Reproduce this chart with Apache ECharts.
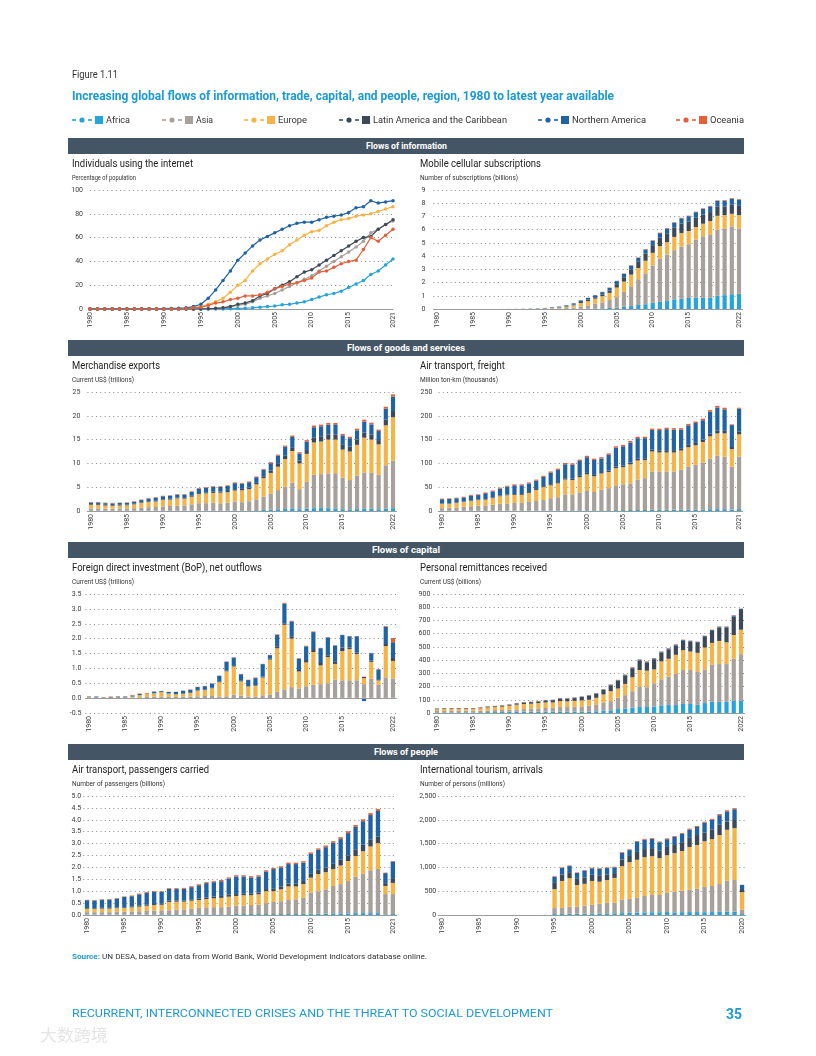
<!DOCTYPE html>
<html><head><meta charset="utf-8">
<script src="https://cdn.jsdelivr.net/npm/echarts@6/dist/echarts.min.js"></script>
<style>
html,body{margin:0;padding:0;background:#fff;}
#page{position:relative;width:816px;height:1056px;overflow:hidden;font-family:Roboto,"Noto Sans",sans-serif;}
#chart{position:absolute;left:0;top:0;width:816px;height:1056px;}
.t{position:absolute;white-space:nowrap;transform-origin:left center;z-index:3;}
.bar{position:absolute;left:68px;width:676px;height:16px;background:#445565;z-index:2;}
.lg{position:absolute;width:32px;height:10px;z-index:3;line-height:0;}
.lg svg{display:block;}
</style></head>
<body><div id="page"><div id="chart"></div></div>
<script>
// ---------- categories ----------
const years80to20 = ['1980','1981','1982','1983','1984','1985','1986','1987','1988','1989','1990','1991','1992','1993','1994','1995','1996','1997','1998','1999','2000','2001','2002','2003','2004','2005','2006','2007','2008','2009','2010','2011','2012','2013','2014','2015','2016','2017','2018','2019','2020'];
const years80to21 = years80to20.concat(['2021']);
const years80to22 = years80to21.concat(['2022']);
const tickYears = ['1980','1985','1990','1995','2000','2005','2010','2015'];
const regionNames = ['Africa','Asia','Europe','Latin America and the Caribbean','Northern America','Oceania'];
const regionColors = ['#25a3db','#a8a09b','#f5b445','#3d4957','#1f63a5','#e4603b'];

// ---------- Individuals using the internet (% of population), 1980-2021 ----------
const internetAfrica = [0,0,0,0,0,0,0,0,0,0, 0,0,0,0,0,0,0,0.05,0.1,0.3, 0.5,0.7,1,1.5,2,2.5,3.5,4,5,6, 8,10,12,13,15,18,21,24,29,32, 37,42];
const internetAsia = [0,0,0,0,0,0,0,0,0,0, 0,0,0,0,0,0,0.3,0.5,1,2, 3,4,6,9,11,13,16,19,22,25, 28,32,36,40,44,48,52,57,64,67, 71,74];
const internetEurope = [0,0,0,0,0,0,0,0,0,0, 0,0.1,0.2,0.5,1,2,4,6,9,14, 20,24,32,38,42,46,49,54,58,62, 65,66,70,73,75,76,78,79,80,82, 84,86];
const internetLatAm = [0,0,0,0,0,0,0,0,0,0, 0,0,0,0,0,0.1,0.3,0.6,1,2, 4,5,7,11,13,17,20,23,27,31, 33,37,41,45,49,53,57,60,61,67, 71,75];
const internetNAm = [0,0,0,0,0,0,0,0,0,0, 0.3,0.5,0.7,1,2,4,9,16,24,32, 41,47,53,58,61,64,67,70,72,73, 73,75,77,78,79,81,85,86,91,89, 90,91];
const internetOceania = [0,0,0,0,0,0,0,0,0,0, 0,0,0.1,0.5,1,1.5,3,5,6,8, 9,11,11,12,14,17,19,21,22,24, 26,31,32,35,38,40,41,50,60,57, 62,67];

// ---------- Mobile cellular subscriptions (billions), 1980-2022 ----------
const mobileAfrica = [0,0,0,0,0,0,0,0,0,0, 0,0,0,0,0.001,0.001,0.002,0.003,0.004,0.008, 0.015,0.025,0.035,0.05,0.08,0.11,0.17,0.22,0.3,0.36, 0.47,0.54,0.6,0.73,0.77,0.83,0.85,0.85,0.87,1.0, 1.05,1.12,1.15];
const mobileAsia = [0,0,0,0,0,0,0,0,0,0, 0.001,0.002,0.003,0.005,0.008,0.015,0.025,0.045,0.07,0.11, 0.185,0.245,0.365,0.45,0.6,0.79,1.13,1.5,1.95,2.34, 2.83,3.28,3.52,3.72,3.95,4.07,4.4,4.65,4.78,5.0, 5.05,5.13,4.95];
const mobileEurope = [0,0,0,0,0,0,0,0,0,0, 0.002,0.003,0.005,0.008,0.012,0.02,0.035,0.055,0.09,0.16, 0.25,0.33,0.38,0.47,0.54,0.72,0.77,0.88,0.85,0.95, 0.95,0.93,0.93,1.0,1.03,1.0,0.95,0.95,1.0,1.05, 1.0,0.95,1.0];
const mobileLatAm = [0,0,0,0,0,0,0,0,0,0, 0,0.001,0.002,0.003,0.005,0.008,0.014,0.025,0.04,0.06, 0.08,0.1,0.11,0.14,0.18,0.26,0.33,0.4,0.47,0.53, 0.58,0.64,0.68,0.7,0.72,0.72,0.7,0.7,0.68,0.68, 0.65,0.68,0.7];
const mobileNAm = [0,0,0,0,0,0.0004,0.0007,0.001,0.002,0.004, 0.006,0.008,0.012,0.017,0.026,0.035,0.045,0.055,0.07,0.09, 0.12,0.14,0.15,0.17,0.2,0.23,0.26,0.28,0.3,0.32, 0.34,0.35,0.36,0.38,0.39,0.4,0.42,0.43,0.43,0.45, 0.45,0.47,0.47];
const mobileOceania = [0,0,0,0,0,0,0,0,0.0002,0.0005, 0.001,0.0015,0.002,0.0025,0.003,0.004,0.005,0.006,0.008,0.01, 0.012,0.014,0.017,0.02,0.022,0.025,0.027,0.028,0.03,0.032, 0.034,0.035,0.036,0.037,0.038,0.04,0.04,0.04,0.041,0.042, 0.042,0.043,0.044];

// ---------- Merchandise exports (US$ trillions), 1980-2022 ----------
const merchAfrica = [0.1,0.09,0.08,0.07,0.07,0.07,0.06,0.07,0.07,0.08, 0.1,0.09,0.09,0.08,0.09,0.1,0.11,0.11,0.1,0.11, 0.14,0.13,0.14,0.17,0.22,0.3,0.36,0.43,0.55,0.38, 0.5,0.6,0.62,0.6,0.55,0.38,0.34,0.4,0.47,0.45, 0.36,0.5,0.6];
const merchAsia = [0.45,0.46,0.42,0.43,0.48,0.48,0.54,0.63,0.73,0.77, 0.85,0.96,1.06,1.12,1.31,1.55,1.54,1.64,1.5,1.64, 1.86,1.72,1.91,2.28,2.83,3.3,4.04,4.67,5.45,4.22, 5.6,7.0,7.13,7.3,7.4,6.62,6.16,7.0,7.63,7.55, 7.24,9.1,10.0];
const merchEurope = [0.75,0.7,0.65,0.6,0.6,0.65,0.8,1.0,1.1,1.15, 1.4,1.35,1.5,1.4,1.6,1.9,2.05,2.05,2.25,2.2, 2.3,2.5,2.55,3.15,3.85,4.4,4.9,5.8,6.6,5.4, 5.9,6.8,6.85,7.1,7.05,5.9,6.0,6.5,7.3,7.0, 6.4,8.4,9.1];
const merchLatAm = [0.15,0.17,0.15,0.15,0.15,0.15,0.12,0.12,0.15,0.15, 0.15,0.15,0.15,0.15,0.2,0.2,0.22,0.25,0.25,0.25, 0.3,0.3,0.3,0.3,0.4,0.5,0.6,0.7,0.8,0.6, 0.8,1.0,1.1,1.1,1.1,1.0,1.0,1.1,1.1,1.1, 0.9,1.2,1.3];
const merchNAm = [0.35,0.38,0.35,0.35,0.4,0.37,0.43,0.48,0.55,0.63, 0.6,0.65,0.65,0.7,0.8,0.95,0.93,1.0,0.95,1.05, 1.25,1.1,1.15,1.2,1.4,1.55,1.75,1.9,2.15,1.5, 1.8,2.2,2.1,2.05,2.1,2.0,1.8,1.95,2.3,2.1, 1.9,2.3,3.0];
const merchOceania = [0.1,0.1,0.1,0.1,0.08,0.08,0.1,0.1,0.1,0.12, 0.1,0.1,0.1,0.1,0.12,0.15,0.15,0.15,0.15,0.15, 0.15,0.15,0.15,0.15,0.15,0.2,0.2,0.25,0.3,0.25, 0.3,0.35,0.35,0.35,0.3,0.3,0.3,0.35,0.4,0.35, 0.3,0.4,0.5];

// ---------- Air transport, freight (million ton-km, thousands), 1980-2021 ----------
const freightAfrica = [0.5,0.5,0.5,0.6,0.6,0.6,0.7,0.7,0.8,0.8, 0.9,0.9,1,1,1.1,1.2,1.2,1.3,1.3,1.4, 1.5,1.4,1.5,1.6,1.8,1.9,2,2.1,2.2,2.4, 2.6,2.7,2.8,2.9,3,3,3.1,3.8,4,3.9, 3.2,4];
const freightAsia = [5.5,6.5,6.5,8.4,9.4,10.4,11.3,12.3,14.2,14.2, 16.1,16.1,18,20,21.9,25.8,27.8,33.7,33.7,37.6, 40.5,38.6,43.5,46.4,52.2,54.1,56,63.9,66.8,80.6, 80.4,80.3,80.2,84.1,90,94,98.9,106.2,112,110.1, 89.8,110];
const freightEurope = [9,8,10,10,11,12,12,14,16,18, 17,17,19,23,27,27,29,31,30,32, 35,33,34,34,36,36,40,40,38,42, 40,40,40,40,41,41,43,47,47,49, 37,47];
const freightLatAm = [1,1,1,1,1.2,1.2,1.3,1.4,1.5,1.6, 1.7,1.7,1.8,2,2.2,2.4,2.6,2.8,2.8,2.8, 3,2.8,2.8,2.9,3.2,3.4,3.6,3.8,3.9,4, 4.5,4.7,4.8,4.8,5,5,5,5.3,5.5,5.3, 4.5,5.5];
const freightNAm = [8.8,9.3,8.7,8.7,10.4,9.3,12.1,12.9,14.7,16.5, 18.3,18.3,18.1,17.8,19.4,24,25.7,29.4,29.4,31.3, 33,31.4,28.3,33.2,39.8,40.6,42.4,43.2,42.2,41.1, 42.5,44.3,43.2,39.2,40.9,41.8,40.7,46.2,49,45.3, 46,48.5];
const freightOceania = [1.2,1.2,1.3,1.3,1.4,1.5,1.6,1.7,1.8,1.9, 2,2,2.1,2.2,2.4,2.6,2.7,2.8,2.8,2.9, 3,2.8,2.9,2.9,3,3,3,3,2.9,2.9, 3,3,3,3,3.1,3.2,3.3,3.5,3.5,3.4, 1.5,2];

// ---------- FDI net outflows (US$ trillions), 1980-2022 ----------
const fdiAfrica = [0.001,0.001,0.001,0.001,0.001,0.001,0.001,0.001,0.001,0.001, 0.002,0.002,0.002,0.002,0.002,0.002,0.002,0.002,0.002,0.002, 0.003,0.003,0.003,0.003,0.003,0.005,0.005,0.005,0.01,0.005, 0.01,0.01,0.01,0.01,0.01,0.01,0.01,0.01,0.01,0.01, 0.005,0.01,0.01];
const fdiAsia = [0.004,0.004,0.004,0.005,0.006,0.01,0.02,0.03,0.04,0.05, 0.05,0.04,0.04,0.05,0.05,0.06,0.07,0.07,0.05,0.06, 0.11,0.08,0.05,0.05,0.09,0.12,0.21,0.29,0.36,0.32, 0.39,0.44,0.46,0.49,0.61,0.59,0.59,0.59,0.46,0.64, 0.44,0.69,0.65];
const fdiEurope = [0.025,0.016,0.006,0.005,0.014,0.01,0.03,0.07,0.1,0.11, 0.15,0.11,0.09,0.09,0.12,0.19,0.2,0.26,0.48,0.84, 0.95,0.48,0.34,0.36,0.6,1.17,1.46,2.17,1.63,0.57, 0.8,1.1,0.63,0.88,0.53,0.98,1.05,0.88,0.2,0.57, 0.15,1.05,0.59];
const fdiLatAm = [0.003,0.003,0.002,0.002,0.003,0.003,0.003,0.004,0.005,0.005, 0.005,0.006,0.007,0.008,0.009,0.01,0.01,0.015,0.02,0.02, 0.02,0.02,0.015,0.02,0.03,0.03,0.05,0.05,0.08,0.05, 0.08,0.1,0.08,0.06,0.07,0.12,0.05,0.05,0.04,0.04, 0.02,0.07,0.1];
const fdiNAm = [0.02,0.03,0.01,0.02,0.03,0.03,0.03,0.04,0.005,0.05, 0.03,0.05,0.07,0.1,0.1,0.11,0.12,0.14,0.2,0.3, 0.28,0.22,0.2,0.24,0.42,0.12,0.4,0.66,0.5,0.38, 0.46,0.57,0.5,0.6,0.55,0.42,0.38,0.55,-0.1,0.25, 0.35,0.58,0.53];
const fdiOceania = [0.003,0.003,0.01,0.02,0.005,0.006,0.02,0.01,0.02,0.01, 0.005,0.005,0.005,0.005,0.01,0.01,0.01,0.01,0.005,0.01, 0.01,0.01,0.01,0.02,0.01,0.01,0.02,0.03,0.02,0.02, 0.02,0.02,0.01,0.01,0.01,0.01,0.01,0.01,0.01,0.01, 0.01,0.02,0.14];

// ---------- Personal remittances received (US$ billions), 1980-2022 ----------
const remitAfrica = [5,5,5,5,5,5,6,7,7,8, 9,9,10,10,10,10,10,11,11,11, 11,12,13,17,20,30,35,40,45,45, 48,58,60,60,68,68,62,75,85,85, 85,92,92];
const remitAsia = [10,10,11,12,12,12,12,13,15,15, 16,18,20,22,25,28,30,34,34,37, 39,43,52,63,70,85,100,125,155,150, 177,197,215,235,257,257,248,255,280,285, 285,318,353];
const remitEurope = [13,15,14,13,13,13,18,22,23,25, 30,36,38,38,40,42,40,45,43,44, 45,45,50,60,75,70,85,105,125,125, 105,135,135,145,150,140,145,165,165,175, 165,180,185];
const remitLatAm = [5,5,5,5,5,5,5,6,6,8, 7,9,11,12,12,15,17,20,20,21, 26,31,31,36,45,60,65,69,73,63, 77,67,72,71,71,74,75,80,90,100, 110,139,149];
const remitNAm = [1,1,1,1,1,1,1,1,1,1, 2,2,2,2,2,2,2,2,3,3, 3,3,3,3,4,4,4,5,5,5, 6,6,6,6,6,6,7,7,7,7, 7,8,8];
const remitOceania = [1,1,1,1,1,1,1.5,1.5,1.5,1.5, 2,2,2,2,2,2,2,2,2,2, 2,2,2,2,2,2,2,2,3,3, 3,3,3,3,3,3,3,3,3,3, 3,3,3];

// ---------- Air transport, passengers carried (billions), 1980-2021 ----------
const paxAfrica = [0.02,0.02,0.02,0.02,0.02,0.02,0.02,0.02,0.02,0.02, 0.03,0.03,0.03,0.03,0.03,0.03,0.03,0.03,0.03,0.03, 0.04,0.04,0.04,0.04,0.04,0.04,0.04,0.04,0.04,0.05, 0.06,0.06,0.06,0.07,0.07,0.07,0.08,0.08,0.08,0.08, 0.03,0.04];
const paxAsia = [0.1,0.1,0.1,0.1,0.11,0.12,0.13,0.14,0.15,0.16, 0.17,0.17,0.19,0.21,0.24,0.27,0.29,0.3,0.3,0.32, 0.36,0.36,0.38,0.39,0.46,0.51,0.54,0.59,0.62,0.67, 0.89,0.94,1.02,1.15,1.23,1.36,1.52,1.67,1.8,1.85, 0.85,0.84];
const paxEurope = [0.14,0.13,0.15,0.15,0.16,0.16,0.17,0.19,0.22,0.24, 0.23,0.35,0.34,0.32,0.33,0.33,0.35,0.37,0.39,0.42, 0.4,0.43,0.41,0.44,0.5,0.45,0.5,0.57,0.54,0.58, 0.62,0.72,0.72,0.71,0.78,0.84,0.88,0.93,1.0,1.09, 0.34,0.47];
const paxLatAm = [0.03,0.03,0.03,0.03,0.03,0.03,0.04,0.04,0.04,0.04, 0.04,0.05,0.05,0.05,0.06,0.06,0.07,0.08,0.08,0.08, 0.08,0.08,0.08,0.08,0.09,0.1,0.11,0.12,0.13,0.13, 0.16,0.18,0.2,0.22,0.24,0.24,0.26,0.27,0.28,0.27, 0.12,0.2];
const paxNAm = [0.33,0.33,0.34,0.35,0.37,0.43,0.43,0.48,0.51,0.51, 0.5,0.5,0.49,0.49,0.51,0.56,0.6,0.6,0.62,0.68, 0.74,0.71,0.67,0.67,0.74,0.83,0.81,0.82,0.81,0.77, 0.84,0.84,0.85,0.88,0.87,0.93,0.96,0.99,1.04,1.08, 0.42,0.7];
const paxOceania = [0.02,0.02,0.02,0.02,0.02,0.02,0.03,0.03,0.03,0.03, 0.03,0.03,0.03,0.04,0.04,0.04,0.04,0.04,0.05,0.05, 0.05,0.05,0.05,0.05,0.05,0.05,0.05,0.06,0.06,0.06, 0.06,0.06,0.07,0.07,0.08,0.08,0.08,0.08,0.08,0.08, 0.02,0.02];

// ---------- International tourism, arrivals (millions), 1980-2020 ----------
const N15 = [null,null,null,null,null,null,null,null,null,null,null,null,null,null,null];
const tourAfrica = N15.concat([20,25,27,28,30,32,33,35,36,40, 45,50,55,58,58,62,55,60,62,62, 60,62,66,70,72,20]);
const tourAsia = N15.concat([125,125,148,142,165,183,202,220,219,280, 295,310,345,362,362,403,435,450,468,488, 530,548,584,650,663,95]);
const tourEurope = N15.concat([400,565,600,460,460,500,465,480,525,705, 770,800,815,815,775,790,810,835,900,920, 960,985,1030,1070,1090,365]);
const tourLatAm = N15.concat([145,135,125,130,135,130,135,120,100,140, 130,165,170,170,155,175,170,185,190,210, 185,205,215,175,190,65]);
const tourNAm = N15.concat([115,139,128,123,142,136,136,131,121,140, 124,214,199,194,179,163,173,172,176,170, 205,199,203,213,208,85]);
const tourOceania = N15.concat([10,11,12,12,13,14,14,14,14,15, 16,16,16,16,16,17,17,18,19,20, 20,21,22,22,22,5]);

// ---------- panel setup ----------
const fmtInt = v => String(v);
const fmt1 = v => v.toFixed(1);
const fmtComma = v => v.toLocaleString('en-US');
const panels = [
  {left:90, width:303, top:190, years:years80to21, line:true, min:0, max:100, interval:20, fmt:fmtInt, margin:7,
   data:[internetAfrica,internetAsia,internetEurope,internetLatAm,internetNAm,internetOceania]},
  {left:433.4, width:309.2, top:190, years:years80to22, min:0, max:9, interval:1, fmt:fmtInt, margin:8,
   data:[mobileAfrica,mobileAsia,mobileEurope,mobileLatAm,mobileNAm,mobileOceania]},
  {left:87.4, width:309.2, top:392, years:years80to22, min:0, max:25, interval:5, fmt:fmtInt, margin:7,
   data:[merchAfrica,merchAsia,merchEurope,merchLatAm,merchNAm,merchOceania]},
  {left:438.4, width:304.3, top:392, years:years80to21, min:0, max:250, interval:50, fmt:fmtInt, margin:6,
   data:[freightAfrica,freightAsia,freightEurope,freightLatAm,freightNAm,freightOceania]},
  {left:85.4, width:311.2, top:594, years:years80to22, min:-0.5, max:3.5, interval:0.5, fmt:fmt1, margin:4, zeroLine:true,
   data:[fdiAfrica,fdiAsia,fdiEurope,fdiLatAm,fdiNAm,fdiOceania]},
  {left:433.4, width:311.2, top:594, years:years80to22, min:0, max:900, interval:100, fmt:fmtInt, margin:3,
   data:[remitAfrica,remitAsia,remitEurope,remitLatAm,remitNAm,remitOceania]},
  {left:83.3, width:313.3, top:796, years:years80to21, min:0, max:5, interval:0.5, fmt:fmt1, margin:2,
   data:[paxAfrica,paxAsia,paxEurope,paxLatAm,paxNAm,paxOceania]},
  {left:438.3, width:307.5, top:796, years:years80to20, min:0, max:2500, interval:500, fmt:fmtComma, margin:2,
   data:[tourAfrica,tourAsia,tourEurope,tourLatAm,tourNAm,tourOceania]}
];

const option = {animation:false, grid:[], xAxis:[], yAxis:[], series:[]};
panels.forEach((p, i) => {
  const last = p.years.length - 1;
  option.grid.push({left:p.left, top:p.top, width:p.width, height:119, containLabel:false, outerBoundsMode:'none'});
  option.xAxis.push({
    type:'category', gridIndex:i, data:p.years, boundaryGap:!p.line,
    axisLine:{show:!p.zeroLine, onZero:false, lineStyle:{color:'#9b9b9b', width:1}},
    axisTick:{show:false},
    axisLabel:{rotate:90, fontSize:7, color:'#3a3a3a', margin:3, interval:0, fontFamily:'Roboto',
      formatter:(v, idx) => (tickYears.indexOf(v) >= 0 || idx === last) ? v : ''}
  });
  option.yAxis.push({
    type:'value', gridIndex:i, min:p.min, max:p.max, interval:p.interval,
    axisLine:{show:false}, axisTick:{show:false},
    axisLabel:{fontSize:7, color:'#3a3a3a', margin:p.margin, formatter:p.fmt, fontFamily:'Roboto'},
    splitLine:{show:true, lineStyle:{color:'#8a8a8a', type:[1,3.3], width:1}}
  });
  p.data.forEach((arr, k) => {
    const s = p.line ? {
      type:'line', name:regionNames[k], xAxisIndex:i, yAxisIndex:i, data:arr,
      symbol:'circle', symbolSize:3.5, showSymbol:true,
      lineStyle:{color:regionColors[k], width:1.2}, itemStyle:{color:regionColors[k]}
    } : {
      type:'bar', name:regionNames[k], xAxisIndex:i, yAxisIndex:i, data:arr, stack:'s'+i,
      barWidth:'58%', itemStyle:{color:regionColors[k]}
    };
    if (p.zeroLine && k === 0) {
      s.markLine = {silent:true, symbol:'none', label:{show:false},
        lineStyle:{color:'#9b9b9b', type:'solid', width:1}, data:[{yAxis:0}]};
    }
    option.series.push(s);
  });
});

const chart = echarts.init(document.getElementById('chart'), null, {renderer:'canvas'});
chart.setOption(option);

// ---------- texts ----------
const page = document.getElementById('page');
function addText(html, x, yc, size, w, o) {
  o = o || {};
  const el = document.createElement('div');
  el.className = 't';
  el.innerHTML = html;
  el.style.fontSize = size + 'px';
  el.style.lineHeight = size + 'px';
  el.style.fontWeight = o.bold ? '700' : '400';
  el.style.color = o.color || '#231f20';
  if (o.font) el.style.fontFamily = o.font;
  if (o.stroke) el.style.webkitTextStroke = o.stroke;
  el.style.top = (yc - size / 2) + 'px';
  el.style.left = '0px';
  page.appendChild(el);
  const nat = el.getBoundingClientRect().width;
  el.style.transform = 'scaleX(' + (w / nat) + ')';
  el.style.left = (o.center ? x - w / 2 : x) + 'px';
  return el;
}
const BLUE = '#1b9ad6';
addText('Figure 1.11', 72, 75, 10, 46, {color:'#333'});
addText('Increasing global flows of information, trade, capital, and people, region, 1980 to latest year available', 72, 95, 13, 542, {bold:true, color:BLUE});

// legend
const legendTextX = [106, 196, 278, 373, 572, 710];
const legendTextW = [24, 17, 29, 134, 74, 34];
regionNames.forEach((nm, k) => {
  const x0 = legendTextX[k] - 34;
  const c = regionColors[k];
  const svg = document.createElement('div');
  svg.className = 'lg';
  svg.style.left = x0 + 'px';
  svg.style.top = '114.5px';
  svg.innerHTML = '<svg width="32" height="10" xmlns="http://www.w3.org/2000/svg">' +
    '<rect x="0" y="4.2" width="4" height="1.6" fill="' + c + '"/>' +
    '<circle cx="10" cy="5" r="2.6" fill="' + c + '"/>' +
    '<rect x="16" y="4.2" width="4" height="1.6" fill="' + c + '"/>' +
    '<rect x="23" y="1" width="8" height="8" fill="' + c + '"/></svg>';
  page.appendChild(svg);
  addText(nm, legendTextX[k], 119.5, 9.5, legendTextW[k], {color:'#333'});
});

// section bars
const sections = [['Flows of information',138,81],['Flows of goods and services',340,118],['Flows of capital',542,68],['Flows of people',744,64]];
sections.forEach(s => {
  const b = document.createElement('div');
  b.className = 'bar';
  b.style.top = s[1] + 'px';
  page.appendChild(b);
  addText(s[0], 406, s[1] + 8, 9, s[2], {bold:true, color:'#fff', center:true});
});

// panel titles
const panelTitles = [
  ['Individuals using the internet', 72, 164, 121, 'Percentage of population', 64],
  ['Mobile cellular subscriptions', 420, 164, 121, 'Number of subscriptions (billions)', 98],
  ['Merchandise exports', 72, 366, 88, 'Current US$ (trillions)', 62],
  ['Air transport, freight', 420, 366, 85, 'Million ton-km (thousands)', 78],
  ['Foreign direct investment (BoP), net outflows', 72, 568, 190, 'Current US$ (trillions)', 62],
  ['Personal remittances received', 420, 568, 127, 'Current US$ (billions)', 61],
  ['Air transport, passengers carried', 72, 770, 137, 'Number of passengers (billions)', 93],
  ['International tourism, arrivals', 420, 770, 123, 'Number of persons (millions)', 85]
];
panelTitles.forEach(t => {
  addText(t[0], t[1], t[2], 10.5, t[3], {color:'#222'});
  addText(t[4], t[1], t[2] + 14, 7, t[5], {color:'#333'});
});

addText('<span style="color:' + BLUE + ';font-weight:700">Source:</span> UN DESA, based on data from World Bank, World Development Indicators database online.', 72, 957, 7.5, 355, {color:'#333'});
addText('RECURRENT, INTERCONNECTED CRISES AND THE THREAT TO SOCIAL DEVELOPMENT', 72, 1014, 11.5, 481, {color:BLUE});
addText('35', 726, 1014, 14, 16, {bold:true, color:BLUE});
addText('大数跨境', 40, 1034, 16, 68, {color:'#e4e4e4', font:'"Noto Sans CJK SC", sans-serif'});
</script>
</body></html>
